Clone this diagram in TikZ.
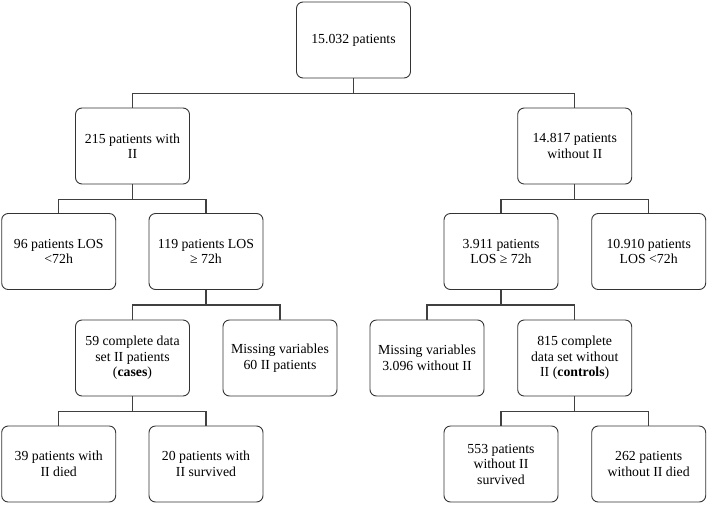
\documentclass[tikz,border=0pt]{standalone}
\usepackage{fontspec}
\setmainfont{Liberation Serif}
\tikzset{
  box/.style={draw=black!80, line width=0.9pt, rounded corners=6.5pt, minimum width=114pt, minimum height=76pt, align=center, inner sep=2pt, font=\fontsize{13.8}{15.5}\selectfont},
  conn/.style={draw=black!75, line width=1.1pt}
}
\begin{document}
\begin{tikzpicture}[x=1pt,y=-1pt]
\useasboundingbox (0,0) rectangle (707,504);
% level 1
\node[box] (root) at (353.5,40) {15.032 patients};
% level 2
\node[box] (with) at (132.5,146) {215 patients with\\II};
\node[box] (without) at (574.7,146) {14.817 patients\\without II};
% level 3
\node[box] (wlt) at (58.7,251.5) {96 patients LOS\\<72h};
\node[box] (wge) at (206,251.5) {119 patients LOS\\≥ 72h};
\node[box] (nge) at (501,251.5) {3.911 patients\\LOS ≥ 72h};
\node[box] (nlt) at (648.7,251.5) {10.910 patients\\LOS <72h};
% level 4
\node[box] (cases) at (132.5,358) {59 complete data\\set II patients\\(\textbf{cases})};
\node[box] (miss1) at (280,358) {Missing variables\\60 II patients};
\node[box] (miss2) at (427,358) {Missing variables\\3.096 without II};
\node[box] (controls) at (574.7,358) {815 complete\\data set without\\II (\textbf{controls})};
% level 5
\node[box] (died1) at (58.7,464) {39 patients with\\II died};
\node[box] (surv1) at (206,464) {20 patients with\\II survived};
\node[box] (surv2) at (501,464) {553 patients\\without II\\survived};
\node[box] (died2) at (648.7,464) {262 patients\\without II died};
% connectors
\foreach \p/\c in {root/with, root/without, with/wlt, with/wge, without/nge, without/nlt, wge/cases, wge/miss1, nge/miss2, nge/controls, cases/died1, cases/surv1, controls/surv2, controls/died2}
  \draw[conn] (\p.south) -- ++(0,15) -| (\c.north);
\end{tikzpicture}
\end{document}
